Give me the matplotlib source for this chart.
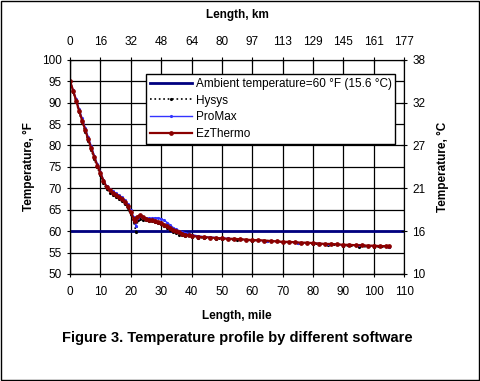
import matplotlib.pyplot as plt
from matplotlib.patches import Rectangle

plt.rcParams['font.family'] = ['Liberation Sans', 'DejaVu Sans']

# EzThermo profile (mile, degF)
ez_mile = [0, 1, 2, 3, 4, 5, 6, 7, 8, 9, 10, 11, 12, 13, 14, 15, 16, 17, 18, 19,
           20, 21, 21.5, 22, 23, 24, 25, 26, 27, 28, 29, 30, 31, 32, 33, 34, 35,
           36, 37, 38, 39, 40, 42, 44, 46, 48, 50, 52, 54, 56, 58, 60, 62, 64,
           66, 68, 70, 72, 74, 76, 78, 80, 82, 84, 86, 88, 90, 92, 94, 96, 98,
           100, 102, 104, 105]
ez_temp = [95.0, 92.8, 90.5, 88.0, 85.8, 83.6, 81.4, 79.3, 77.2, 75.3, 73.5,
           71.8, 70.3, 69.5, 69.0, 68.5, 68.0, 67.5, 66.8, 65.8, 64.4, 62.8,
           62.3, 63.3, 63.7, 63.3, 62.9, 62.7, 62.5, 62.3, 62.1, 61.9, 61.5,
           61.1, 60.7, 60.3, 60.0, 59.7, 59.4, 59.2, 59.0, 58.9, 58.7, 58.6,
           58.5, 58.4, 58.3, 58.2, 58.2, 58.1, 58.0, 57.9, 57.9, 57.8, 57.7,
           57.6, 57.5, 57.5, 57.4, 57.3, 57.3, 57.2, 57.1, 57.0, 57.0, 56.9,
           56.8, 56.8, 56.7, 56.7, 56.6, 56.6, 56.5, 56.5, 56.5]

# ProMax profile
pm_mile = [0, 1, 2, 3, 4, 5, 6, 7, 8, 9, 10, 11, 12, 13, 14, 15, 16, 17, 18, 19,
           20, 21, 21.6, 22.2, 23, 24, 25, 26, 27, 28, 29, 30, 31, 32, 33, 34,
           35, 36, 38, 40, 42, 44, 46, 48, 50, 52, 54, 56, 60, 65, 70, 75, 80,
           85, 90, 95, 100, 105]
pm_temp = [95.0, 93.0, 90.8, 88.4, 86.3, 84.1, 81.9, 79.8, 77.6, 75.6, 73.8,
           72.0, 70.5, 69.8, 69.3, 68.8, 68.4, 67.9, 67.2, 66.3, 64.9, 63.2,
           61.3, 63.0, 63.5, 63.2, 63.0, 63.0, 63.0, 63.1, 63.1, 62.9, 62.5,
           62.0, 61.4, 60.8, 60.4, 60.1, 59.6, 59.2, 58.9, 58.7, 58.6, 58.5,
           58.4, 58.3, 58.2, 58.1, 57.9, 57.7, 57.5, 57.3, 57.2, 57.0, 56.8,
           56.7, 56.5, 56.4]

# Hysys profile
hy_mile = [0, 1, 2, 3, 4, 5, 6, 7, 8, 9, 10, 11, 12, 13, 14, 15, 16, 17, 18, 19,
           20, 21, 21.7, 22.3, 23, 24, 25, 26, 27, 28, 29, 30, 31, 32, 33, 34,
           35, 36, 37, 38, 40, 42, 44, 46, 48, 50, 55, 60, 65, 70, 75, 80, 85,
           90, 95, 100, 105]
hy_temp = [95.0, 92.6, 90.2, 87.7, 85.4, 83.2, 81.0, 78.9, 76.8, 74.9, 73.0,
           71.2, 69.8, 69.0, 68.5, 68.0, 67.6, 67.0, 66.3, 65.3, 63.9, 62.2,
           59.8, 62.6, 62.8, 62.6, 62.5, 62.4, 62.3, 62.1, 61.9, 61.6, 61.2,
           60.8, 60.3, 59.9, 59.5, 59.2, 59.0, 58.9, 58.6, 58.5, 58.4, 58.3,
           58.2, 58.1, 57.9, 57.8, 57.6, 57.4, 57.2, 57.0, 56.8, 56.6, 56.4,
           56.3, 56.2]

ambient_f = 60
x_ticks = [0, 10, 20, 30, 40, 50, 60, 70, 80, 90, 100, 110]
km_labels = ['0', '16', '32', '48', '64', '80', '97', '113', '129', '145', '161', '177']
f_ticks = [50, 60, 70, 80, 90, 100]
c_labels = ['10', '16', '21', '27', '32', '38']

fig = plt.figure(figsize=(4.8, 3.81), dpi=100)
ax = fig.add_axes([0.146, 0.281, 0.696, 0.562])

ax.axhline(ambient_f, color='#000080', lw=2.0, zorder=3,
           label='Ambient temperature=60 °F (15.6 °C)')
ax.plot(hy_mile, hy_temp, color='black', ls=':', lw=1.2, marker='.', ms=2.5,
        zorder=4, label='Hysys')
ax.plot(pm_mile, pm_temp, color='#3333ff', lw=1.0, marker='.', ms=2.5,
        zorder=5, label='ProMax')
ax.plot(ez_mile, ez_temp, color='#8b0000', lw=1.6, marker='o', ms=2.4,
        zorder=6, label='EzThermo')

ax.set_xlim(0, 110)
ax.set_ylim(50, 100)
ax.set_xticks(x_ticks)
ax.set_yticks(range(50, 101, 5))
ax.grid(True, color='black', lw=0.9)
ax.tick_params(direction='inout', length=5, labelsize=8.5, width=0.8)
ax.tick_params(axis='x', pad=6)
ax.set_xlabel('Length, mile', fontsize=8.5, fontweight='bold', labelpad=9)
ax.set_ylabel('Temperature, °F', fontsize=8.5, fontweight='bold', labelpad=5)
for s in ax.spines.values():
    s.set_linewidth(0.8)
ax.spines['top'].set_visible(False)
ax.spines['right'].set_visible(False)

ax_c = ax.twinx()
ax_c.set_ylim(50, 100)
ax_c.set_yticks(f_ticks)
ax_c.set_yticklabels(c_labels)
ax_c.tick_params(direction='inout', length=5, labelsize=8.5, width=0.8)
ax_c.set_ylabel('Temperature, °C', fontsize=8.5, fontweight='bold', labelpad=8)

ax_km = ax.twiny()
ax_km.set_xlim(0, 110)
ax_km.set_xticks(x_ticks)
ax_km.set_xticklabels(km_labels)
ax_km.tick_params(direction='inout', length=5, labelsize=8.5, width=0.8, pad=6)
ax_km.set_xlabel('Length, km', fontsize=8.5, fontweight='bold', labelpad=13)
for a in (ax_c, ax_km):
    for s in a.spines.values():
        s.set_linewidth(0.8)

ax.legend(loc='upper left', bbox_to_anchor=(0.21, 0.96), fontsize=8.5,
          frameon=True, fancybox=False, edgecolor='black', framealpha=1,
          handlelength=3.6, borderpad=0.3, labelspacing=0.4, handletextpad=0.3)

fig.text(0.494, 0.113, 'Figure 3. Temperature profile by different software',
         ha='center', va='center', fontsize=10.5, fontweight='bold')
fig.patches.append(Rectangle((0.002, 0.003), 0.995, 0.994, transform=fig.transFigure,
                             fill=False, edgecolor='black', lw=1))

fig.savefig('out.png', dpi=100)
